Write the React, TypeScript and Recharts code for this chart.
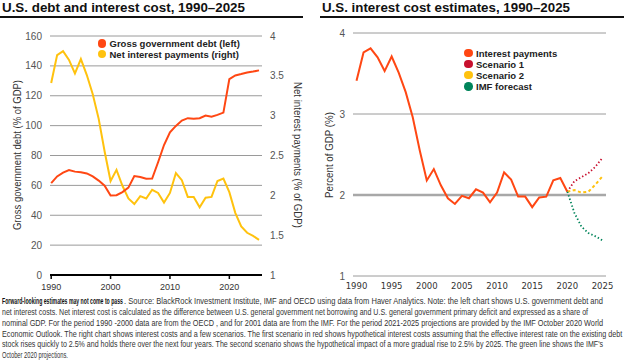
import { useLayoutEffect, useRef, useState, type ReactNode } from "react";
import { CartesianGrid, Legend, Line, LineChart, ReferenceLine, XAxis, YAxis } from "recharts";

const years = [
  1990, 1991, 1992, 1993, 1994, 1995, 1996, 1997, 1998, 1999,
  2000, 2001, 2002, 2003, 2004, 2005, 2006, 2007, 2008, 2009,
  2010, 2011, 2012, 2013, 2014, 2015, 2016, 2017, 2018, 2019,
  2020, 2021, 2022, 2023, 2024, 2025,
];
const grossDebt = [
  61.5, 66, 68.5, 70.3, 69.2, 68.8, 68, 66, 63.2, 59.8,
  53.2, 53.4, 55.5, 58.5, 66.2, 65.6, 64.4, 64.6, 75.5, 87,
  95.5, 99.8, 103.4, 105, 104.6, 105, 106.8, 106, 107.2, 108.7,
  131.2, 133.6, 134.5, 135.5, 136.2, 137,
];
const netInterest = [
  3.41, 3.76, 3.81, 3.7, 3.53, 3.71, 3.51, 3.27, 2.96, 2.55,
  2.18, 2.32, 2.12, 1.96, 1.89, 1.99, 1.96, 2.07, 2.03, 1.91,
  2.03, 2.28, 2.19, 1.98, 1.98, 1.85, 1.97, 1.98, 2.18, 2.21,
  2.04, 1.78, 1.61, 1.53, 1.49, 1.44,
];
const forecastYears = [2020, 2021, 2022, 2023, 2024, 2025];
const scenario1 = [2.04, 2.17, 2.22, 2.27, 2.35, 2.46];
const scenario2 = [2.04, 2.06, 2.03, 2.04, 2.13, 2.23];
const imfForecast = [2.04, 1.78, 1.61, 1.53, 1.49, 1.44];

const leftXTicks = [1990, 2000, 2010, 2020];
const rightXTicks = [1990, 1995, 2000, 2005, 2010, 2015, 2020, 2025];
const debtTicks = [0, 20, 40, 60, 80, 100, 120, 140, 160];
const interestTicks = [1, 1.5, 2, 2.5, 3, 3.5, 4];
const pctTicks = [1, 2, 3, 4];

const RED = "#ff4713";
const YELLOW = "#ffc20e";
const CRIMSON = "#c8102e";
const GREEN = "#00845a";
const SANS = '"Liberation Sans", Arial, sans-serif';
const NARROW = '"Liberation Sans Narrow", "Liberation Sans", Arial, sans-serif';

const leftData = years.map((year, i) => ({ year, debt: grossDebt[i], interest: netInterest[i] }));
const rightData = years.map((year, i) => {
  const f = forecastYears.indexOf(year);
  return {
    year,
    interest: year <= 2020 ? netInterest[i] : undefined,
    s1: f >= 0 ? scenario1[f] : undefined,
    s2: f >= 0 ? scenario2[f] : undefined,
    imf: f >= 0 ? imfForecast[f] : undefined,
  };
});

const leftLegend = [
  { label: "Gross government debt (left)", color: RED },
  { label: "Net interest payments (right)", color: YELLOW },
];
const rightLegend = [
  { label: "Interest payments", color: RED },
  { label: "Scenario 1", color: CRIMSON },
  { label: "Scenario 2", color: YELLOW },
  { label: "IMF forecast", color: GREEN },
];

const footBold = "Forward-looking estimates may not come to pass";
const footFirst = ". Source: BlackRock Investment Institute, IMF and OECD using data from Haver Analytics. Note: the left chart shows U.S. government debt and";
const footnote = [
  "net interest costs. Net interest cost is calculated as the difference between U.S. general government net borrowing and U.S. general government primary deficit and expressed as a share of",
  "nominal GDP. For the period 1990 -2000 data are from the OECD , and for 2001 data are from the IMF. For the period 2021-2025 projections are provided by the IMF October 2020 World",
  "Economic Outlook. The right chart shows interest costs and a few scenarios. The first scenario in red shows hypothetical interest costs assuming that the effective interest rate on the existing debt",
  "stock rises quickly to 2.5% and holds there over the next four years. The second scenario shows the hypothetical impact of a more gradual rise to 2.5% by 2025. The green line shows the IMF's",
  "October 2020  projections.",
];
const footWidths = [586, 601, 620, 601, 66];

// squeezes a line of svg text to a given width with a real transform
function FitText({ x, y, width, children, fontWeight, fill }: { x: number; y: number; width: number; children: ReactNode; fontWeight?: number; fill?: string }) {
  const ref = useRef<SVGTextElement>(null);
  const [sx, setSx] = useState(0.7);
  useLayoutEffect(() => {
    const w = ref.current ? ref.current.getComputedTextLength() : 0;
    if (w > 0) setSx(width / w);
  }, [width]);
  return (
    <text ref={ref} transform={`translate(${x} ${y}) scale(${sx} 1)`} fontFamily={NARROW} fontSize={8.5} fontWeight={fontWeight} fill={fill || "#333"}>
      {children}
    </text>
  );
}

function LegendBox({ items, rowH, bg }: { items: { label: string; color: string }[]; rowH: number; bg: boolean }) {
  return (
    <div style={{ display: "inline-block", background: bg ? "#fff" : "transparent", padding: bg ? "1px 5px 1px 7.5px" : 0, fontFamily: SANS, fontSize: 9.5, fontWeight: 700, color: "#222" }}>
      {items.map((it) => (
        <div key={it.label} style={{ display: "flex", alignItems: "center", height: rowH, whiteSpace: "nowrap" }}>
          <span style={{ width: 8.5, height: 8.5, borderRadius: "50%", background: it.color, marginRight: 3.5, flex: "none" }} />
          {it.label}
        </div>
      ))}
    </div>
  );
}

export default function App() {
  const tickStyle = { fontSize: 10, fill: "#555", fontFamily: SANS };
  return (
    <div style={{ position: "absolute", left: 0, top: 0, width: 624, height: 361, background: "#fff", overflow: "hidden" }}>
      <div style={{ position: "absolute", left: 0, top: 0 }}>
        <LineChart width={310} height={300} data={leftData} margin={{ top: 36, right: 18, bottom: 10, left: 0 }}>
          <CartesianGrid yAxisId="debt" vertical={false} stroke="#9a9a9a" strokeWidth={1} />
          <XAxis dataKey="year" type="number" domain={[1989.8, 2025.5]} ticks={leftXTicks} interval={0}
            axisLine={{ stroke: "#000", strokeWidth: 2 }} tickLine={{ stroke: "#000", strokeWidth: 1.5 }} tickSize={4} tickMargin={5}
            height={15} tick={{ fontSize: 9, fill: "#333", fontFamily: SANS }} allowDataOverflow />
          <YAxis yAxisId="debt" domain={[0, 160]} ticks={debtTicks} width={50} axisLine={false} tickLine={false} tickSize={0} tickMargin={8} tick={tickStyle} interval={0} />
          <YAxis yAxisId="int" orientation="right" domain={[1, 4]} ticks={interestTicks} width={30} axisLine={false} tickLine={false} tickSize={0} tickMargin={8} tick={tickStyle} interval={0} />
          <Legend layout="horizontal" verticalAlign="middle" align="center"
            wrapperStyle={{ left: 90, top: 37, width: "auto", height: "auto" }}
            content={() => <LegendBox items={leftLegend} rowH={10.7} bg />} />
          <Line yAxisId="int" dataKey="interest" type="linear" stroke={YELLOW} strokeWidth={2} dot={false} isAnimationActive={false} />
          <Line yAxisId="debt" dataKey="debt" type="linear" stroke={RED} strokeWidth={2} dot={false} isAnimationActive={false} />
        </LineChart>
      </div>
      <div style={{ position: "absolute", left: 310, top: 0 }}>
        <LineChart width={314} height={300} data={rightData} margin={{ top: 33, right: 18, bottom: 10, left: 0 }}>
          <CartesianGrid vertical={false} stroke="#9a9a9a" strokeWidth={1} />
          <ReferenceLine y={2} stroke="#a8a8a8" strokeWidth={2.5} />
          <XAxis dataKey="year" type="number" domain={[1989.5, 2025.5]} ticks={rightXTicks} interval={0}
            axisLine={false} tickLine={false} tickSize={0} tickMargin={7} height={14}
            tick={{ fontSize: 8.5, fill: "#333", fontFamily: '"DejaVu Sans", Verdana, sans-serif' }} allowDataOverflow />
          <YAxis domain={[1, 4]} ticks={pctTicks} width={43} axisLine={false} tickLine={false} tickSize={0} tickMargin={8} tick={tickStyle} interval={0} />
          <Legend layout="horizontal" verticalAlign="middle" align="center"
            wrapperStyle={{ left: 154, top: 47.5, width: "auto", height: "auto" }}
            content={() => <LegendBox items={rightLegend} rowH={11.1} bg={false} />} />
          <Line dataKey="interest" type="linear" stroke={RED} strokeWidth={2} dot={false} isAnimationActive={false} />
          <Line dataKey="s1" type="linear" stroke={CRIMSON} strokeWidth={1.8} strokeDasharray="1.4 2.2" dot={false} isAnimationActive={false} />
          <Line dataKey="s2" type="linear" stroke={YELLOW} strokeWidth={2} strokeDasharray="3 2.5" dot={false} isAnimationActive={false} />
          <Line dataKey="imf" type="linear" stroke={GREEN} strokeWidth={1.8} strokeDasharray="1.4 2.2" dot={false} isAnimationActive={false} />
        </LineChart>
      </div>
      <svg width={624} height={361} style={{ position: "absolute", left: 0, top: 0, pointerEvents: "none" }}>
        <text x={2} y={11.5} fontFamily={SANS} fontWeight={700} fontSize={12.5} fill="#111" textLength={243} lengthAdjust="spacingAndGlyphs">
          U.S. debt and interest cost, 1990–2025
        </text>
        <text x={322} y={11.5} fontFamily={SANS} fontWeight={700} fontSize={12.5} fill="#111" textLength={248} lengthAdjust="spacingAndGlyphs">
          U.S. interest cost estimates, 1990–2025
        </text>
        <rect x={0} y={16} width={303} height={2} fill="#111" />
        <rect x={320} y={16} width={304} height={2} fill="#111" />
        <text x={17} y={158.5} transform="rotate(-90 17 155)" textAnchor="middle" fontFamily={SANS} fontSize={10} fill="#333" textLength={150} lengthAdjust="spacingAndGlyphs">
          Gross government debt (% of GDP)
        </text>
        <text x={297} y={158.5} transform="rotate(90 297 155)" textAnchor="middle" fontFamily={SANS} fontSize={10} fill="#333" textLength={146} lengthAdjust="spacingAndGlyphs">
          Net interest payments (% of GDP)
        </text>
        <text x={329} y={158.5} transform="rotate(-90 329 155)" textAnchor="middle" fontFamily={SANS} fontSize={10} fill="#333" textLength={86} lengthAdjust="spacingAndGlyphs">
          Percent of GDP (%)
        </text>
        <FitText x={2} y={304} width={121} fontWeight={700} fill="#111">{footBold}</FitText>
        <FitText x={124} y={304} width={479}>{footFirst}</FitText>
        {footnote.map((line, i) => (
          <FitText key={i} x={2} y={315 + i * 10.8} width={footWidths[i]}>{line}</FitText>
        ))}
      </svg>
    </div>
  );
}
